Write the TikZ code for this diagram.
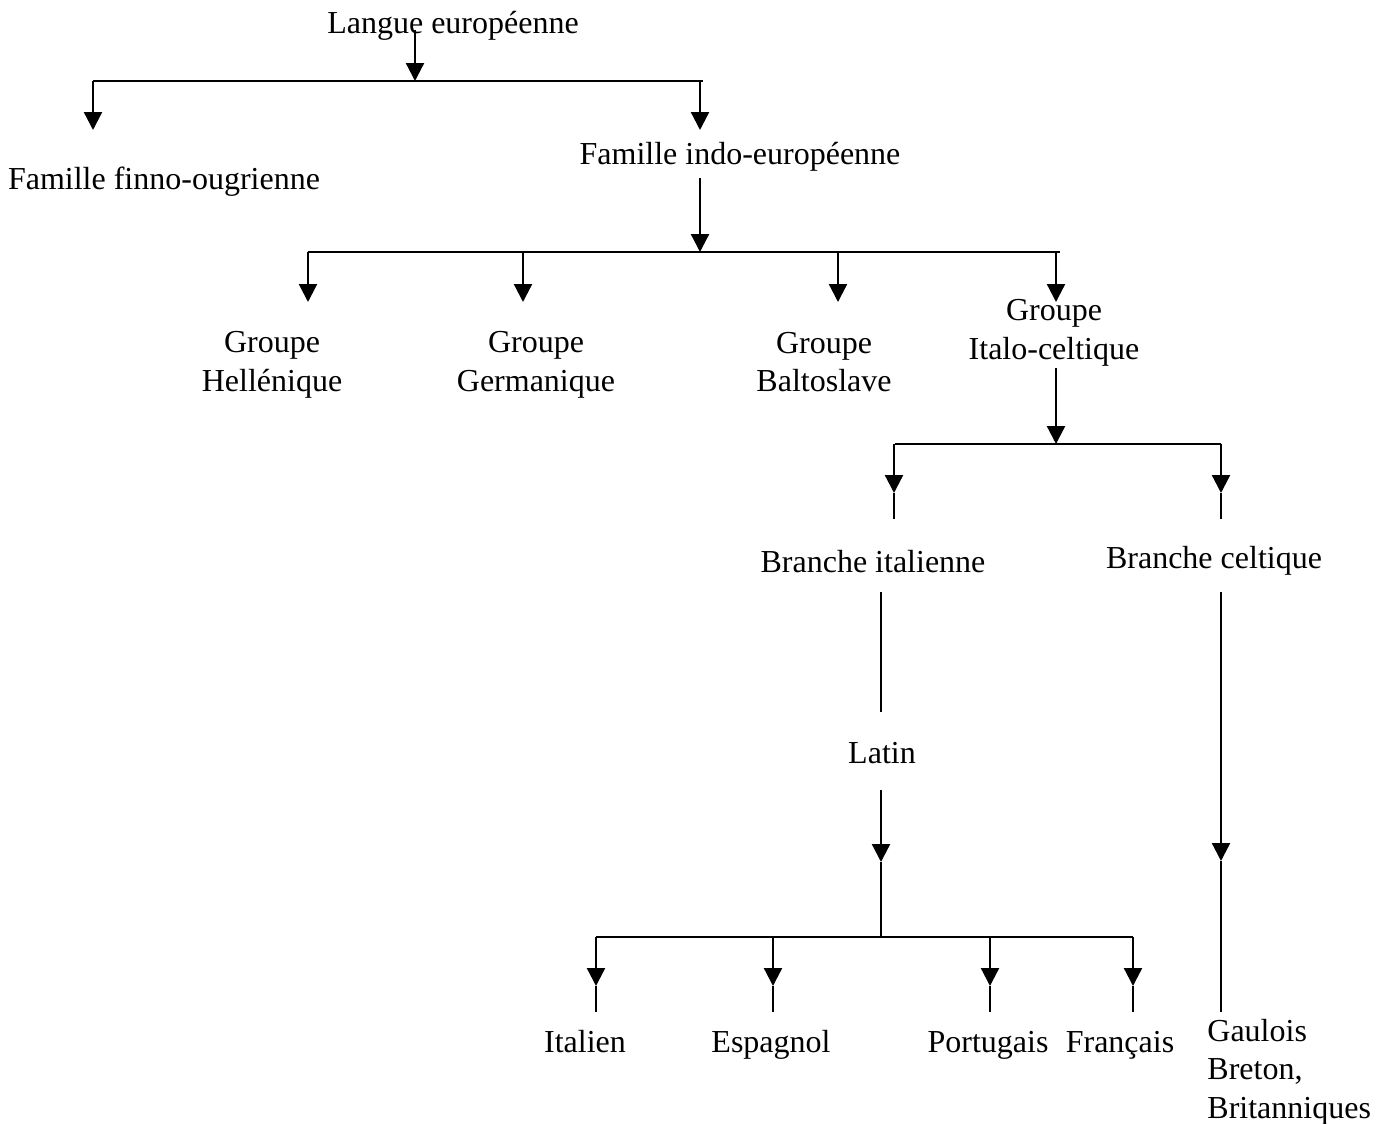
\documentclass[tikz,border=0pt]{standalone}
\usepackage{fontspec}
\setmainfont{Liberation Serif}
\usetikzlibrary{arrows.meta}
\begin{document}
\begin{tikzpicture}[x=0.5pt,y=-0.5pt,
  lbl/.style={inner sep=0pt,align=center,font=\fontsize{16}{19.2}\selectfont},
  conn/.style={line width=1.15pt},
  stub/.style={line width=0.8pt},
  arr/.style={conn,-{Triangle[width=9pt,length=9pt]}}]
\useasboundingbox (0,0) rectangle (1387,1124);

% labels
\node[lbl,anchor=base] (lang) at (453,33) {Langue européenne};
\node[lbl,anchor=base] (finno) at (164,189) {Famille finno-ougrienne};
\node[lbl,anchor=base] (indo) at (740,164) {Famille indo-européenne};
\node[lbl] (hell) at (272,365) {Groupe\\Hellénique};
\node[lbl] (germ) at (536,365) {Groupe\\Germanique};
\node[lbl] (balto) at (824,362) {Groupe\\Baltoslave};
\node[lbl] (italo) at (1054,333) {Groupe\\Italo-celtique};
\node[lbl,anchor=base] (bital) at (873,572) {Branche italienne};
\node[lbl,anchor=base] (bcelt) at (1214,568) {Branche celtique};
\node[lbl,anchor=base] (latin) at (882,763) {Latin};
\node[lbl,anchor=base] (italien) at (585,1052) {Italien};
\node[lbl,anchor=base] (espagnol) at (771,1052) {Espagnol};
\node[lbl,anchor=base] (portugais) at (988,1052) {Portugais};
\node[lbl,anchor=base] (francais) at (1120,1052) {Français};
\node[lbl,anchor=west,align=left] (gaulois) at (1207,1072) {Gaulois\\Breton,\\Britanniques};

% level 1
\coordinate (l0) at (415,30);
\coordinate (l1) at (415,81);
\coordinate (h1a) at (93,81);
\coordinate (h1b) at (703,81);
\coordinate (d1a) at (93,130);
\coordinate (d1b) at (700,130);
\draw[arr] (l0) -- (l1);
\draw[conn] (h1a) -- (h1b);
\draw[arr] (h1a) -- (d1a);
\draw[arr] (h1b -| d1b) -- (d1b);

% level 2
\coordinate (i0) at (700,178);
\coordinate (i1) at (700,252);
\coordinate (h2a) at (308,252);
\coordinate (h2b) at (1060,252);
\draw[arr] (i0) -- (i1);
\draw[conn] (h2a) -- (h2b);
\foreach \x/\n in {308/hell,523/germ,838/balto,1056/italo}
  \draw[arr] (\x,252) coordinate (top-\n) -- (\x,302) coordinate (tip-\n);

% level 3
\coordinate (g0) at (1056,368);
\coordinate (g1) at (1056,444);
\coordinate (h3a) at (895,444);
\coordinate (h3b) at (1221,444);
\draw[arr] (g0) -- (g1);
\draw[conn] (h3a) -- (h3b);
\foreach \x/\n in {894/bital,1221/bcelt}{
  \draw[arr] (\x,444) -- (\x,493) coordinate (tip-\n);
  \draw[stub] (tip-\n) -- (\x,519);
}

% italic branch
\coordinate (b0) at (881,592);
\coordinate (b1) at (881,712);
\draw[stub] (b0) -- (b1);
\coordinate (t0) at (881,790);
\coordinate (t1) at (881,862);
\coordinate (t2) at (881,937);
\draw[arr] (t0) -- (t1);
\draw[stub] (t1) -- (t2);
\coordinate (h4a) at (596,937);
\coordinate (h4b) at (1133,937);
\draw[conn] (h4a) -- (h4b);
\foreach \x/\n in {596/italien,773/espagnol,990/portugais,1133/francais}{
  \draw[arr] (\x,937) -- (\x,986) coordinate (tip-\n);
  \draw[stub] (tip-\n) -- (\x,1012);
}

% celtic branch
\coordinate (c0) at (1221,592);
\coordinate (c1) at (1221,861);
\coordinate (c2) at (1221,1012);
\draw[arr] (c0) -- (c1);
\draw[stub] (c1) -- (c2);
\end{tikzpicture}
\end{document}
